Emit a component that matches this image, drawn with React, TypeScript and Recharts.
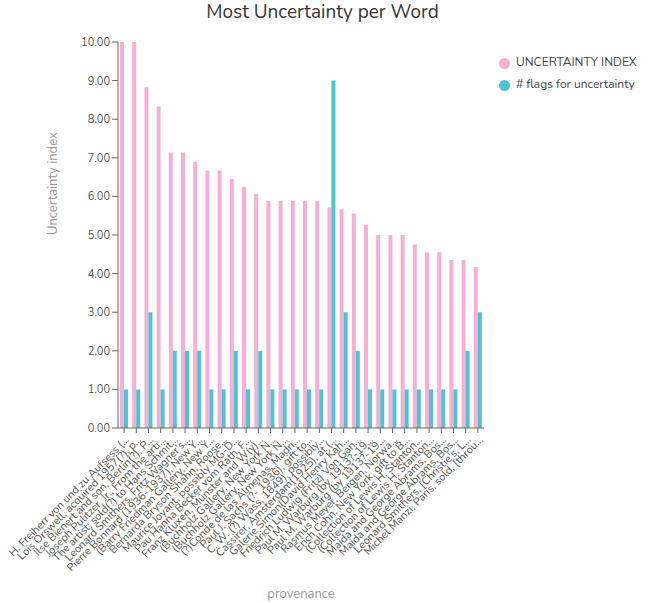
import { BarChart, Bar, XAxis, YAxis, Legend } from "recharts";

const provenances = [
  "H. Freiherr von und zu Aufsess (...",
  "Lois Orswell, acquired 1957(?), p...",
  "Ilse Bienert and son, Berlin(?), P...",
  "Joseph Pulitzer, Jr., From the arti...",
  "The artist; sold(?) to Hans Schmit...",
  "Leonard Smithers, Fritz Wagner's...",
  "Pierre Bonnard (1936-1937), New Y...",
  "(Barry Friedman Gallery, New Y...",
  "Bernarda Bryson Shahn, Roose...",
  "Maurice Joyant, possibly MG-D...",
  "Pau Hanna Becker vom Rath, F...",
  "Franz Kluxen, Münster and W(y)...",
  "(Buchholz Gallery, New York N...",
  "(Buchholz Gallery, New York N...",
  "(?)Conde de las Almenas, Madri...",
  "Paul J. Sachs (?- 1936), gift to...",
  "C. W. (?) Wass, 1849), possibly...",
  "Cassirer, Amsterdam(1925), at (...",
  "Galerie Simon(David Henry Kah...",
  "Friedrich Ludwig (Fritz) Von Gan...",
  "Paul M. Warburg (by 1913?-19...",
  "Paul M. Warburg (by 1913?-19...",
  "Rasmus Meyer, Bergen, Norwa...",
  "Erich Cohn, New York, gift to B...",
  "(Collection of Lewis H. Stanton...",
  "(Collection of Lewis H. Stanton...",
  "Maida and George Abrams, Bos...",
  "Maida and George Abrams, Bos...",
  "Leonard Smithers, [Christie's, L...",
  "Michel Manzi, Paris, sold, [throu...",
];

const uncertaintyIndex = [
  10, 10, 8.83, 8.33, 7.14, 7.14, 6.9, 6.67, 6.67, 6.45, 6.25, 6.06, 5.88, 5.88, 5.88,
  5.88, 5.88, 5.71, 5.67, 5.56, 5.26, 5, 5, 5, 4.76, 4.55, 4.55, 4.35, 4.35, 4.17,
];

const uncertaintyFlags = [
  1, 1, 3, 1, 2, 2, 2, 1, 1, 2, 1, 2, 1, 1, 1, 1, 1, 9, 3, 2, 1, 1, 1, 1, 1, 1, 1, 1, 2, 3,
];

const yTicks = [0, 1, 2, 3, 4, 5, 6, 7, 8, 9, 10];

const data = provenances.map((name, i) => ({
  name,
  index: uncertaintyIndex[i],
  flags: uncertaintyFlags[i],
}));

const PINK = "#f8afd3";
const TEAL = "#4ec3d3";

export default function App() {
  return (
    <div
      style={{
        position: "absolute",
        left: 0,
        top: 0,
        width: 650,
        height: 603,
        fontFamily: "Nunito, Lato, sans-serif",
        background: "#fff",
      }}
    >
      <div
        style={{
          position: "absolute",
          top: 0,
          left: 0,
          width: 645,
          textAlign: "center",
          fontSize: 19,
          color: "#333",
          lineHeight: "24px",
          zIndex: 1,
        }}
      >
        Most Uncertainty per Word
      </div>
      <BarChart
        width={650}
        height={603}
        data={data}
        margin={{ top: 42, right: 8, bottom: 0, left: 40 }}
        barGap={0}
        barCategoryGap={2}
      >
        <XAxis
          dataKey="name"
          interval={0}
          angle={-45}
          textAnchor="end"
          height={175}
          stroke="#666"
          tick={{ fill: "#555", fontSize: 11 }}
          tickSize={5}
          label={{ value: "provenance", position: "insideBottom", offset: 5, fill: "#999", fontSize: 13 }}
        />
        <YAxis
          domain={[0, 10]}
          ticks={yTicks}
          width={78}
          stroke="#666"
          tick={{ fill: "#555", fontSize: 11 }}
          tickFormatter={(v: number) => v.toFixed(2)}
          label={{ value: "Uncertainty index", angle: -90, position: "insideLeft", offset: 12, fill: "#999", fontSize: 13 }}
        />
        <Legend
          layout="vertical"
          align="right"
          verticalAlign="top"
          iconType="circle"
          iconSize={11}
          itemSorter={(item: any) => (item.dataKey === "index" ? 0 : 1)}
          wrapperStyle={{
            top: 51,
            width: 158,
            paddingLeft: 15,
            boxSizing: "border-box",
            fontSize: 12,
            lineHeight: "22px",
            whiteSpace: "nowrap",
          }}
          formatter={(value: string) => (
            <span style={{ color: "#444", marginLeft: 2, whiteSpace: "nowrap" }}>{value}</span>
          )}
        />
        <Bar dataKey="index" name="UNCERTAINTY INDEX" fill={PINK} isAnimationActive={false} />
        <Bar dataKey="flags" name="# flags for uncertainty" fill={TEAL} isAnimationActive={false} />
      </BarChart>
    </div>
  );
}
